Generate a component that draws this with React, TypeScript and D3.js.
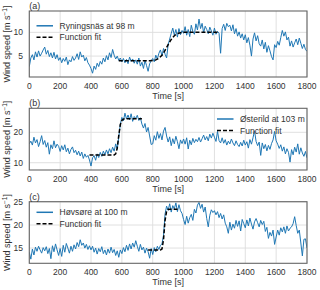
import * as d3 from 'd3'

// wind speed samples every 10 s
const ryningsnas = [
  2.8, 4.6, 5.3, 4.2, 5.9, 4.8, 6.1, 5.0, 5.6, 6.3,
  6.9, 5.4, 6.2, 4.9, 5.7, 4.6, 5.8, 4.4, 5.3, 4.1,
  4.7, 3.6, 4.5, 3.9, 4.8, 3.2, 4.2, 3.8, 4.9, 4.1,
  4.6, 5.5, 4.3, 5.9, 4.8, 5.2, 4.0, 4.7, 3.6, 3.1,
  2.4, 1.4, 2.9, 2.2, 3.5, 2.8, 3.9, 3.3, 4.6, 3.8,
  5.1, 4.2, 5.7, 4.7, 6.4, 5.2, 4.4, 5.0, 4.1, 4.6,
  3.8, 4.5, 3.6, 4.3, 3.4, 4.8, 3.9, 4.4, 3.5, 4.2,
  3.3, 4.6, 2.9, 3.7, 2.4, 4.1, 3.0, 1.8, 3.4, 4.0,
  4.5, 3.8, 5.2, 4.4, 5.6, 6.3, 5.1, 6.6, 5.4, 4.6,
  7.4, 8.6, 9.8, 10.9, 9.4, 10.6, 9.0, 10.8, 9.5, 10.4,
  9.8, 11.2, 9.4, 10.6, 9.1, 11.5, 10.2, 9.6, 11.8, 10.5,
  12.8, 10.8, 11.9, 9.9, 11.3, 10.6, 9.7, 11.1, 10.3, 9.4,
  10.9, 9.6, 10.2, 9.8, 5.6, 10.8, 11.7, 10.4, 11.9, 11.2,
  11.5, 10.3, 11.6, 9.7, 10.8, 9.2, 10.1, 8.8, 9.7, 8.4,
  9.5, 7.8, 8.9, 7.3, 5.0, 8.6, 9.9, 8.2, 9.3, 7.6,
  7.1, 8.4, 6.5, 7.9, 5.8, 7.2, 6.1, 4.9, 4.2, 7.4,
  6.8, 8.1, 7.3, 8.9, 10.4, 9.2, 10.1, 8.4, 9.0, 7.1,
  8.2, 6.9, 7.8, 8.6, 7.4, 8.8, 7.7, 6.6, 7.5, 6.4,
  6.0,
]

const osterild = [
  16.2, 17.1, 15.8, 18.4, 16.5, 17.6, 15.3, 16.9, 18.9, 16.0,
  17.3, 15.1, 16.6, 12.8, 15.9, 14.6, 17.2, 14.9, 16.1, 15.4,
  13.7, 15.6, 14.2, 15.9, 13.6, 14.8, 12.9, 14.4, 15.2, 13.3,
  14.1, 12.6, 13.8, 12.2, 13.5, 11.4, 12.9, 11.8, 12.4, 10.9,
  8.9, 11.6, 12.3, 10.8, 12.9, 11.7, 13.4, 12.1, 13.8, 12.6,
  14.2, 12.9, 14.6, 13.3, 15.1, 13.8, 16.2, 14.4, 18.5, 22.6,
  24.9, 23.8, 26.3, 24.4, 25.7, 24.1, 26.1, 23.6, 25.2, 24.5,
  25.6, 23.9, 24.8, 22.7, 21.4, 22.9, 20.1, 21.6, 18.8, 16.0,
  16.2, 18.9, 17.4, 20.2, 18.0, 19.6, 17.5, 20.4, 21.6, 18.8,
  16.8, 18.5, 15.6, 17.9, 16.2, 18.7, 16.9, 14.6, 17.5, 16.3,
  17.8, 16.1, 18.2, 14.5, 17.4, 15.9, 18.0, 16.6, 17.7, 16.9,
  18.3, 16.8, 17.9, 19.1, 17.5, 18.6, 17.2, 19.4, 18.1, 19.7,
  18.4, 17.0, 20.3, 17.3, 16.5, 18.2, 16.4, 17.6, 15.8, 17.1,
  16.2, 17.8, 16.5, 15.6, 17.2, 16.0, 15.3, 16.7, 15.5, 17.4,
  15.8, 16.9, 14.8, 17.6, 16.1, 18.2, 20.5, 17.0, 15.6, 16.8,
  12.4, 16.5, 14.6, 16.0, 13.9, 15.7, 14.4, 16.3, 17.5, 20.3,
  17.2, 16.1, 14.7, 15.9, 13.8, 15.2, 12.9, 14.6, 13.4, 10.2,
  14.3, 12.6, 15.1, 13.5, 16.2, 12.8, 14.9, 13.2, 12.1, 13.7,
  11.6,
]

const hovsore = [
  14.1, 12.6, 14.8, 13.5, 15.2, 14.3, 15.4, 14.6, 13.9, 15.1,
  14.4, 15.3, 13.8, 14.9, 12.7, 15.5, 14.2, 15.9, 14.6, 13.4,
  14.9, 13.2, 15.6, 14.1, 16.0, 15.0, 13.9, 15.4, 14.3, 15.7,
  14.8, 16.2, 15.3, 16.8, 15.6, 16.1, 15.0, 15.8, 14.7, 15.5,
  14.6, 15.4, 14.1, 15.0, 13.7, 14.9, 14.2, 15.3, 13.8, 14.6,
  13.5, 14.8, 13.9, 15.2, 14.0, 14.7, 13.4, 14.4, 13.0, 14.6,
  13.8, 15.1, 14.2, 15.6, 14.5, 15.9, 14.8, 16.1, 15.2, 16.6,
  15.4, 14.3, 15.8, 14.6, 15.2, 13.9, 15.0, 14.2, 12.8, 14.9,
  13.6, 15.1, 14.2, 15.4, 14.7, 15.6, 15.9, 17.8, 22.4, 24.1,
  23.2, 24.6, 22.8, 24.2, 23.5, 24.8, 22.9, 24.4, 23.1, 22.5,
  21.2, 20.1, 21.9, 20.4, 21.6, 22.3, 21.0, 23.4, 22.6, 24.3,
  24.9, 23.6, 24.5, 22.8, 23.9, 21.4, 19.6, 22.1, 23.3, 22.7,
  23.1, 22.2, 22.9, 21.6, 22.5, 21.3, 22.2, 20.4, 19.6, 18.2,
  20.6, 18.9, 20.2, 19.3, 21.0, 19.7, 20.9, 18.7, 21.2, 20.3,
  19.4, 21.1, 19.8, 21.5, 20.2, 19.1, 20.7, 21.4, 20.5, 19.6,
  21.0, 20.1, 20.8, 18.6, 19.5, 17.1, 18.4, 17.6, 18.9, 15.8,
  17.4, 18.9, 17.8, 19.4, 18.5, 19.6, 18.2, 19.8, 18.7, 19.3,
  19.6, 20.3, 21.8, 19.9, 18.2, 18.9, 16.1, 13.3, 16.9, 17.0,
  15.0,
]

// function fits
const fitTimesA = d3.range(580, 1221, 20)
const fitA = [
  4.0, 4.0, 4.0, 4.0, 4.0, 4.0, 4.0, 4.0, 4.0, 4.0, 4.0,
  4.05, 4.2, 4.55, 5.2, 6.2, 7.4, 8.5, 9.3, 9.75, 9.93, 10.0,
  10.0, 10.0, 10.0, 10.0, 10.0, 10.0, 10.0, 10.0, 10.0, 10.0, 10.0,
]
const fitTimesB = d3.range(390, 731, 10)
const fitB = [
  12.5, 12.5, 12.5, 12.5, 12.5, 12.5, 12.5, 12.5, 12.5, 12.5, 12.5, 12.5, 12.5, 12.5, 12.5, 12.5,
  12.55, 12.9, 14.8, 19.0, 22.6, 23.9, 24.35, 24.5,
  24.5, 24.5, 24.5, 24.5, 24.5, 24.5, 24.5, 24.5, 24.5, 24.5, 24.5,
]
const fitTimesC = d3.range(770, 971, 10)
const fitC = [
  14.6, 14.6, 14.6, 14.6, 14.6, 14.6, 14.6, 14.6, 14.6,
  14.8, 16.8, 21.0, 23.0, 23.35,
  23.4, 23.4, 23.4, 23.4, 23.4, 23.4, 23.4,
]

const xTicks = [0, 200, 400, 600, 800, 1000, 1200, 1400, 1600, 1800]

const FONT = '"Liberation Sans", Arial, sans-serif'
const BLUE = '#1f77b4'
const left = 29.3
const right = 307

const panels = [
  { id: 'a', name: 'Ryningsnäs at 98 m', values: ryningsnas, fitT: fitTimesA, fit: fitA,
    top: 11, bottom: 77, domain: [0.6, 14.5], yTicks: [5, 10], lx: 36.5, ly: 25.8 },
  { id: 'b', name: 'Østerild at 103 m', values: osterild, fitT: fitTimesB, fit: fitB,
    top: 108.3, bottom: 170, domain: [7.6, 27.9], yTicks: [10, 20], lx: 217, ly: 119 },
  { id: 'c', name: 'Høvsøre at 100 m', values: hovsore, fitT: fitTimesC, fit: fitC,
    top: 201.7, bottom: 263.3, domain: [11.7, 25.05], yTicks: [15, 20, 25], lx: 36.5, ly: 212.3 },
]

function Panel({ p }: { p: typeof panels[number] }) {
  const x = d3.scaleLinear().domain([0, 1800]).range([left, right])
  const y = d3.scaleLinear().domain(p.domain).range([p.bottom, p.top])
  const line = d3.line<[number, number]>().x(d => x(d[0])).y(d => y(d[1]))
  const series = p.values.map((v, i) => [i * 10, v] as [number, number])
  const fitPts = p.fit.map((v, i) => [p.fitT[i], v] as [number, number])
  const midY = (p.top + p.bottom) / 2
  const clipId = `clip-${p.id}`

  return (
    <g>
      <defs>
        <clipPath id={clipId}>
          <rect x={left} y={p.top} width={right - left} height={p.bottom - p.top} />
        </clipPath>
      </defs>
      {/* grid */}
      {xTicks.map(t => (
        <line key={'gx' + t} x1={x(t)} x2={x(t)} y1={p.top} y2={p.bottom} stroke="#dcdcdc" strokeWidth={0.9} />
      ))}
      {p.yTicks.map(t => (
        <line key={'gy' + t} x1={left} x2={right} y1={y(t)} y2={y(t)} stroke="#dcdcdc" strokeWidth={0.9} />
      ))}
      {/* data + fit */}
      <g clipPath={`url(#${clipId})`}>
        <path d={line(series) ?? ''} fill="none" stroke={BLUE} strokeWidth={1} strokeLinejoin="round" />
        <path d={line(fitPts) ?? ''} fill="none" stroke="#000" strokeWidth={1.5} strokeDasharray="4 2" />
      </g>
      {/* frame */}
      <rect x={left} y={p.top} width={right - left} height={p.bottom - p.top} fill="none" stroke="#666" strokeWidth={1.1} />
      {/* tick labels */}
      {xTicks.map(t => (
        <text key={'tx' + t} x={x(t)} y={p.bottom + 11.5} textAnchor="middle" fontSize={8.5} fill="#333">{t}</text>
      ))}
      {p.yTicks.map(t => (
        <text key={'ty' + t} x={23} y={y(t) + 3} textAnchor="end" fontSize={8.5} fill="#333">{t}</text>
      ))}
      <text x={(left + right) / 2} y={p.bottom + 21.5} textAnchor="middle" fontSize={9} fill="#333">Time [s]</text>
      <text transform={`translate(10,${midY}) rotate(-90)`} textAnchor="middle" fontSize={9} fill="#333">
        Wind speed [m s<tspan dy={-3} fontSize={6.5}>−1</tspan><tspan dy={3}>]</tspan>
      </text>
      <text x={left} y={p.top - 2} fontSize={9} fill="#333">({p.id})</text>
      {/* legend */}
      <line x1={p.lx} x2={p.lx + 16.5} y1={p.ly} y2={p.ly} stroke={BLUE} strokeWidth={1.5} />
      <text x={p.lx + 23} y={p.ly + 3} fontSize={8.5} fill="#333">{p.name}</text>
      <line x1={p.lx} x2={p.lx + 16.5} y1={p.ly + 11.5} y2={p.ly + 11.5} stroke="#000" strokeWidth={1.5} strokeDasharray="4 2" />
      <text x={p.lx + 23} y={p.ly + 14.5} fontSize={8.5} fill="#333">Function fit</text>
    </g>
  )
}

export default function App() {
  return (
    <svg width={320} height={290} style={{ position: 'absolute', left: 0, top: 0, background: '#fff' }} fontFamily={FONT}>
      {panels.map(p => <Panel key={p.id} p={p} />)}
    </svg>
  )
}
